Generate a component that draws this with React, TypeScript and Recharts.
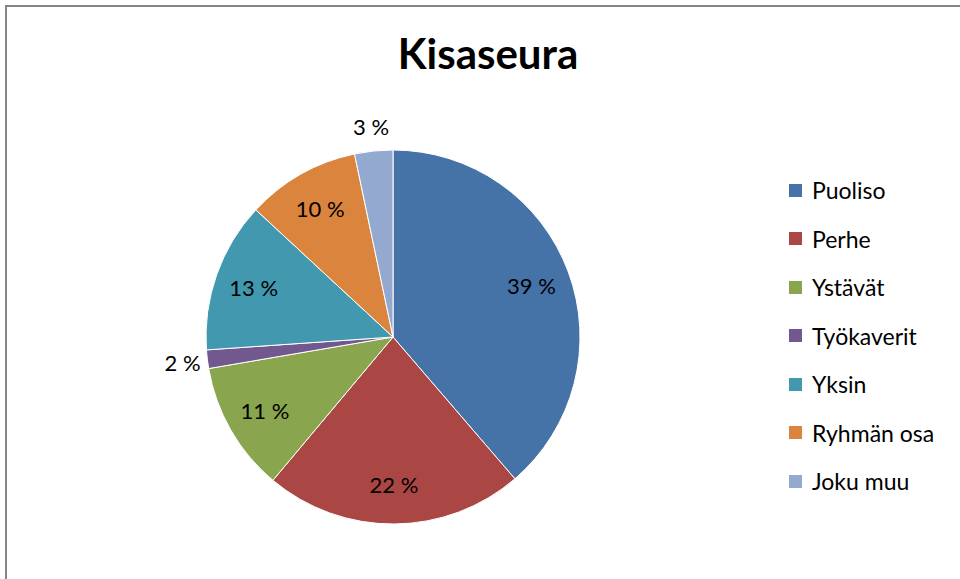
import { PieChart, Pie, Cell, Legend } from 'recharts'

const categories = ['Puoliso', 'Perhe', 'Ystävät', 'Työkaverit', 'Yksin', 'Ryhmän osa', 'Joku muu']
const shares = [38.7, 22.4, 11.2, 1.6, 13.0, 9.8, 3.3]
const colors = ['#4572A7', '#AA4643', '#89A54E', '#71588F', '#4198AF', '#DB843D', '#93A9CF']

const FONT = 'Lato, "Open Sans", sans-serif'
const RAD = Math.PI / 180

const data = categories.map((name, i) => ({ name, value: shares[i] }))

// labels inside big slices, outside small ones (Excel bestFit look)
function renderLabel(props: any) {
  const { cx, cy, midAngle, outerRadius, percent } = props
  const pct = Math.round(percent * 100)
  const r = pct < 5 ? outerRadius + 25 : outerRadius * 0.79
  const x = cx + r * Math.cos(-midAngle * RAD)
  const y = cy + r * Math.sin(-midAngle * RAD)
  return (
    <text
      x={x}
      y={y}
      fill="#000"
      textAnchor="middle"
      dominantBaseline="central"
      style={{ fontFamily: FONT, fontSize: 22 }}
    >
      {pct} %
    </text>
  )
}

// keep the original series order (recharts sorts legend items by default)
function LegendList() {
  return (
    <div>
      {categories.map((name, i) => (
        <div
          key={name}
          style={{ height: 48.5, display: 'flex', alignItems: 'center', fontFamily: FONT, fontSize: 23, color: '#000' }}
        >
          <span style={{ width: 13, height: 13, background: colors[i], marginRight: 10, display: 'inline-block' }} />
          {name}
        </div>
      ))}
    </div>
  )
}

export default function App() {
  return (
    <div style={{ position: 'absolute', left: 0, top: 0, width: 960, height: 579, overflow: 'hidden', background: '#fff' }}>
      <div
        style={{
          position: 'absolute',
          left: 5,
          top: 5,
          width: 1000,
          height: 1000,
          borderTop: '2px solid #868686',
          borderLeft: '2px solid #868686',
        }}
      />
      <div
        style={{
          position: 'absolute',
          left: 0,
          width: 976,
          top: 28,
          textAlign: 'center',
          fontFamily: FONT,
          fontWeight: 'bold',
          fontSize: 42,
          color: '#000',
        }}
      >
        Kisaseura
      </div>
      <PieChart
        width={960}
        height={579}
        margin={{ top: 0, right: 0, bottom: 0, left: 0 }}
        style={{ position: 'absolute', left: 0, top: 0 }}
      >
        <Pie
          data={data}
          dataKey="value"
          nameKey="name"
          cx={393}
          cy={337}
          outerRadius={187}
          startAngle={90}
          endAngle={-270}
          stroke="#ffffff"
          strokeWidth={1}
          label={renderLabel}
          labelLine={false}
          isAnimationActive={false}
        >
          {data.map((d, i) => (
            <Cell key={d.name} fill={colors[i]} />
          ))}
        </Pie>
        <Legend
          layout="vertical"
          align="right"
          verticalAlign="top"
          content={LegendList}
          wrapperStyle={{ left: 789, top: 166, width: 171 }}
        />
      </PieChart>
    </div>
  )
}
